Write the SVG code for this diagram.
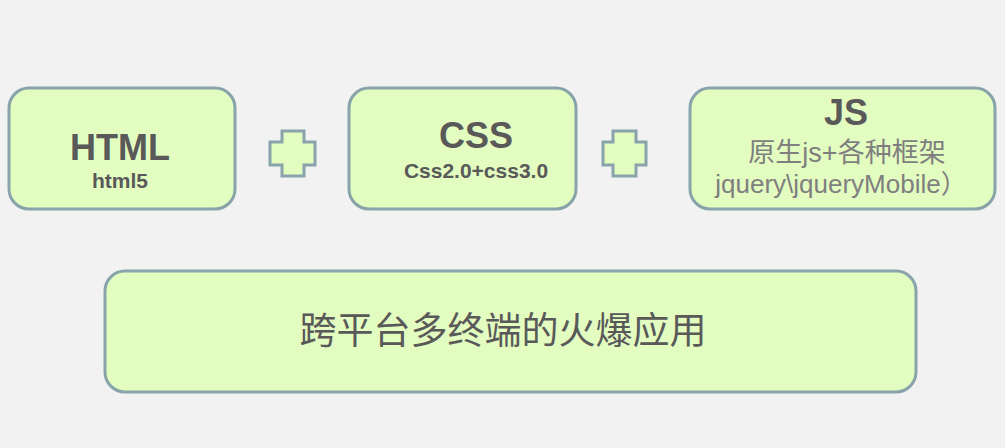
<svg xmlns="http://www.w3.org/2000/svg" width="1005" height="448" viewBox="0 0 1005 448">
<style>
.box{fill:#e3fcc0;stroke:#88a4aa;stroke-width:3}
.plus{fill:#e3fcc0;stroke:#88a4aa;stroke-width:3}
.t1{font-family:"Liberation Sans",Arial,sans-serif;font-weight:bold;fill:#595959;text-anchor:middle}
.t2{font-family:"Liberation Sans","Noto Sans CJK SC",sans-serif;fill:#7f7f7f;text-anchor:middle;font-size:26px}
.t2b{font-size:27px}
.t3{font-family:"Noto Sans CJK SC",sans-serif;fill:#595959;text-anchor:middle;font-size:37px}
</style>
<rect width="1005" height="448" fill="#f2f2f2"/>
<g id="html">
<rect class="box" x="9" y="88" width="226" height="121" rx="20"/>
<text class="t1" x="120" y="160" font-size="36">HTML</text>
<text class="t1" x="120" y="188" font-size="21">html5</text>
</g>
<g id="css">
<rect class="box" x="349" y="88" width="227" height="121" rx="20"/>
<text class="t1" x="476" y="148" font-size="36">CSS</text>
<text class="t1" x="476" y="178" font-size="21">Css2.0+css3.0</text>
</g>
<g id="js">
<rect class="box" x="690" y="88" width="305" height="121" rx="20"/>
<text class="t1" x="846" y="125" font-size="36">JS</text>
<text class="t2 t2b" x="847" y="162">原生js+各种框架</text>
<text class="t2" x="841" y="193">jquery\jqueryMobile）</text>
</g>
<g id="app">
<rect class="box" x="105" y="271" width="811" height="121" rx="20"/>
<text class="t3" x="503" y="344">跨平台多终端的火爆应用</text>
</g>
<g id="connectors">
<polygon class="plus" points="282,131 304,131 304,142 315,142 315,165 304,165 304,176 282,176 282,165 270,165 270,142 282,142"/>
<polygon class="plus" points="613,131 636,131 636,142 646,142 646,165 636,165 636,176 613,176 613,165 603,165 603,142 613,142"/>
</g>
</svg>
